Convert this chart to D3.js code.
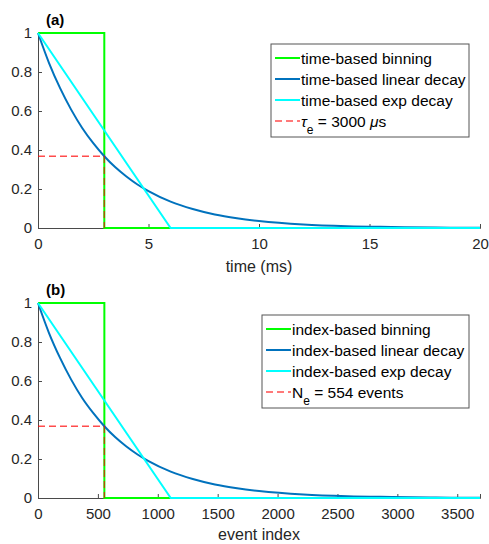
<!DOCTYPE html>
<html><head><meta charset="utf-8">
<script src="https://cdn.jsdelivr.net/npm/d3@7"></script>
<style>body{margin:0;background:#fff}svg{display:block}text{font-family:"Liberation Sans",Arial,sans-serif}</style>
</head><body><svg id="c" width="489" height="544"></svg>
<script>
// Panel (a): time-based
const timeX = [0,0.5,1,1.5,2,2.5,3,3.5,4,4.5,5,6,7,8,9,10,12,14,16,18,20];
const timeDecay = [1,0.846,0.717,0.607,0.513,0.435,0.368,0.311,0.264,0.223,0.189,0.135,0.097,0.069,0.050,0.036,0.018,0.009,0.005,0.002,0.001];
const timeBinX = [0,3,3,20];
const timeBinY = [1,1,0,0];
const timeLinX = [0,6,20];
const timeLinY = [1,0,0];
const timeTau = 3, tauLevel = 0.368;
const timeTicks = [0,5,10,15,20];
// Panel (b): index-based
const idxX = [0,92,185,277,369,462,554,646,738,831,923,1108,1292,1477,1662,1846,2215,2585,2954,3323,3690];
const idxDecay = [1,0.846,0.717,0.607,0.513,0.435,0.368,0.311,0.264,0.223,0.189,0.135,0.097,0.069,0.050,0.036,0.018,0.009,0.005,0.002,0.001];
const idxBinX = [0,554,554,3690];
const idxBinY = [1,1,0,0];
const idxLinX = [0,1108,3690];
const idxLinY = [1,0,0];
const idxNe = 554;
const idxTicks = [0,500,1000,1500,2000,2500,3000,3500];
const yTicks = [0,0.2,0.4,0.6,0.8,1];
const legendA = ["time-based binning","time-based linear decay","time-based exp decay"];
const legendB = ["index-based binning","index-based linear decay","index-based exp decay"];

const colors = {bin:"#00ff00", dec:"#0072bd", lin:"#00ffff", ref:"#ff0000"};
const svg = d3.select("#c");
const axisCol = "#4a4a4a";

function panel(o){
  const g = svg.append("g");
  const x = d3.scaleLinear().domain([0,o.xmax]).range([38,480]);
  const y = d3.scaleLinear().domain([0,1]).range([o.bottom,o.top]);
  const xa = g.append("g").attr("transform",`translate(0,${o.bottom})`)
    .call(d3.axisBottom(x).tickValues(o.xticks).tickSize(-4).tickPadding(10).tickFormat(d3.format("d")));
  const ya = g.append("g").attr("transform",`translate(38,0)`)
    .call(d3.axisLeft(y).tickValues(yTicks).tickSize(-4).tickPadding(6).tickFormat(d=>String(d)));
  [xa,ya].forEach(a=>{
    a.select(".domain").attr("stroke",axisCol).attr("stroke-width",1);
    a.selectAll(".tick line").attr("stroke",axisCol);
    a.selectAll(".tick text").attr("fill","#262626").attr("font-size",15).attr("font-family","Liberation Sans, Arial, sans-serif");
  });
  const line = d3.line().x(d=>x(d[0])).y(d=>y(d[1]));
  const smooth = d3.line().x(d=>x(d[0])).y(d=>y(d[1])).curve(d3.curveMonotoneX);
  g.append("path").attr("d",line(d3.zip(o.binX,o.binY))).attr("fill","none").attr("stroke",colors.bin).attr("stroke-width",2);
  g.append("path").attr("d",smooth(d3.zip(o.decX,o.decY))).attr("fill","none").attr("stroke",colors.dec).attr("stroke-width",2);
  g.append("path").attr("d",line(d3.zip(o.linX,o.linY))).attr("fill","none").attr("stroke",colors.lin).attr("stroke-width",2);
  g.append("path").attr("d",line([[0,tauLevel],[o.ref,tauLevel],[o.ref,0]])).attr("fill","none")
    .attr("stroke",colors.ref).attr("stroke-opacity",0.7).attr("stroke-width",1.3).attr("stroke-dasharray","7,4");
  g.append("text").attr("x",46).attr("y",o.top-8).attr("font-weight","bold").attr("font-size",15).attr("fill","#000").text(o.title);
  g.append("text").attr("x",259).attr("y",o.bottom+o.labOff).attr("text-anchor","middle").attr("font-size",16).attr("fill","#262626").text(o.xlabel);
  const lg = g.append("g");
  lg.append("rect").attr("x",o.lx).attr("y",o.ly).attr("width",469-o.lx).attr("height",93)
    .attr("fill","#fff").attr("stroke","#555").attr("stroke-width",1);
  const cols=[colors.bin,colors.dec,colors.lin];
  o.leg.forEach((t,i)=>{
    const yy = o.ly+14+i*21;
    lg.append("line").attr("x1",o.lx+4).attr("x2",o.lx+29).attr("y1",yy).attr("y2",yy).attr("stroke",cols[i]).attr("stroke-width",2);
    lg.append("text").attr("x",o.lx+30).attr("y",yy+5.5).attr("font-size",15.5).attr("fill","#000").text(t);
  });
  const yy = o.ly+14+3*21;
  lg.append("line").attr("x1",o.lx+4).attr("x2",o.lx+29).attr("y1",yy).attr("y2",yy).attr("stroke",colors.ref).attr("stroke-opacity",0.7).attr("stroke-width",1.3).attr("stroke-dasharray","7,4");
  const tx = lg.append("text").attr("x",o.lx+30).attr("y",yy+5.5).attr("font-size",15.5).attr("fill","#000");
  o.refLabel(tx);
}

panel({xmax:20, top:33, bottom:228, labOff:44, xticks:timeTicks, binX:timeBinX, binY:timeBinY, decX:timeX, decY:timeDecay,
  linX:timeLinX, linY:timeLinY, ref:timeTau, title:"(a)", xlabel:"time (ms)", lx:271, ly:44, leg:legendA,
  refLabel:t=>{ t.append("tspan").attr("font-style","italic").text("τ");
    t.append("tspan").attr("dy",7).attr("font-size",12).text("e");
    t.append("tspan").attr("dy",-7).text(" = 3000 ");
    t.append("tspan").attr("font-style","italic").text("μ");
    t.append("tspan").text("s"); }});
panel({xmax:3690, top:303, bottom:498, labOff:42, xticks:idxTicks, binX:idxBinX, binY:idxBinY, decX:idxX, decY:idxDecay,
  linX:idxLinX, linY:idxLinY, ref:idxNe, title:"(b)", xlabel:"event index", lx:262, ly:315, leg:legendB,
  refLabel:t=>{ t.append("tspan").text("N");
    t.append("tspan").attr("dy",7).attr("font-size",12).text("e");
    t.append("tspan").attr("dy",-7).text(" = 554 events"); }});
</script></body></html>
